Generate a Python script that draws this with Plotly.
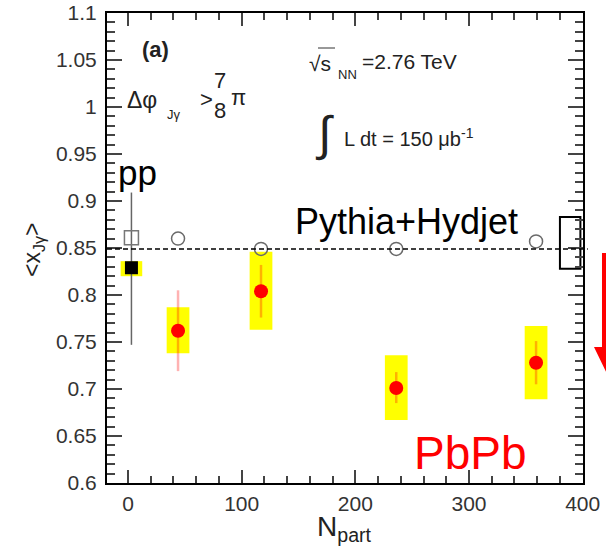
import plotly.graph_objects as go

# ---------------- data ----------------
npart = [44, 117, 236, 359]
pbpb_xjg = [0.762, 0.804, 0.701, 0.728]
pbpb_stat_lo = [0.719, 0.776, 0.685, 0.705]
pbpb_stat_hi = [0.805, 0.832, 0.718, 0.751]
pbpb_sys_lo = [0.738, 0.763, 0.667, 0.689]
pbpb_sys_hi = [0.787, 0.846, 0.736, 0.767]

pythia_npart = [44, 117, 236, 359]
pythia_xjg = [0.860, 0.849, 0.849, 0.857]

pp_npart = [3]
pp_xjg = [0.829]
pp_stat_lo = [0.747]
pp_stat_hi = [0.909]
pp_sys_lo = [0.820]
pp_sys_hi = [0.836]
pp_pythia = [0.861]

ref_npart = [389]
ref_lo = [0.828]
ref_hi = [0.883]
ref_line = 0.849

x_ticks = [0, 100, 200, 300, 400]
x_ticktext = ["0", "100", "200", "300", "400"]
y_ticks = [0.6, 0.65, 0.7, 0.75, 0.8, 0.85, 0.9, 0.95, 1.0, 1.05, 1.1]
y_ticktext = ["0.6", "0.65", "0.7", "0.75", "0.8", "0.85", "0.9", "0.95", "1", "1.05", "1.1"]

FONT = "Liberation Sans, Arial, Helvetica, sans-serif"

fig = go.Figure()

# yellow systematic boxes (PbPb)
fig.add_trace(go.Bar(
    x=npart, y=[h - l for h, l in zip(pbpb_sys_hi, pbpb_sys_lo)], base=pbpb_sys_lo,
    width=20, marker=dict(color="#ffff00", line=dict(width=0)), hoverinfo="skip", showlegend=False))
# pp yellow box
fig.add_trace(go.Bar(
    x=pp_npart, y=[h - l for h, l in zip(pp_sys_hi, pp_sys_lo)], base=pp_sys_lo,
    width=19, marker=dict(color="#ffff00", line=dict(width=0)), hoverinfo="skip", showlegend=False))
# reference (open black) box
fig.add_trace(go.Bar(
    x=ref_npart, y=[h - l for h, l in zip(ref_hi, ref_lo)], base=ref_lo,
    width=18, marker=dict(color="rgba(0,0,0,0)", line=dict(color="black", width=2)),
    hoverinfo="skip", showlegend=False))

# pp point with stat error
fig.add_trace(go.Scatter(
    x=pp_npart, y=pp_xjg, mode="markers",
    marker=dict(symbol="square", size=13, color="black"),
    error_y=dict(type="data", symmetric=False,
                 array=[h - v for h, v in zip(pp_stat_hi, pp_xjg)],
                 arrayminus=[v - l for v, l in zip(pp_xjg, pp_stat_lo)],
                 color="#666666", thickness=1.5, width=0),
    showlegend=False))
# pp Pythia open square
fig.add_trace(go.Scatter(
    x=pp_npart, y=pp_pythia, mode="markers",
    marker=dict(symbol="square-open", size=14, color="#777777", line=dict(width=1.5)),
    showlegend=False))

# Pythia+Hydjet open circles
fig.add_trace(go.Scatter(
    x=pythia_npart, y=pythia_xjg, mode="markers",
    marker=dict(symbol="circle-open", size=13, color="#6a6a6a", line=dict(width=1.5)),
    showlegend=False))

# PbPb points
fig.add_trace(go.Scatter(
    x=npart, y=pbpb_xjg, mode="markers",
    marker=dict(symbol="circle", size=14, color="#ff0000"),
    error_y=dict(type="data", symmetric=False,
                 array=[h - v for h, v in zip(pbpb_stat_hi, pbpb_xjg)],
                 arrayminus=[v - l for v, l in zip(pbpb_xjg, pbpb_stat_lo)],
                 color="rgba(255,0,0,0.3)", thickness=2.5, width=0),
    showlegend=False))

# dashed Pythia+Hydjet reference line
fig.add_shape(type="line", xref="paper", yref="y", x0=0, x1=1.01, y0=ref_line, y1=ref_line,
              line=dict(color="black", width=1.5, dash="5px,3px"))


def px2paper(px, py):
    # figure pixel -> paper coordinates (plot area spans x 107..583, y 13..483)
    return (px - 107) / 476.0, (483 - py) / 470.0


# red arrow outside the frame
pts = [(602, 253), (614, 253), (614, 347), (626, 347), (610, 380), (594, 347), (602, 347)]
path = "M " + " L ".join("%.4f,%.4f" % px2paper(a, b) for a, b in pts) + " Z"
fig.add_shape(type="path", xref="paper", yref="paper", path=path,
              fillcolor="#ff0000", line=dict(width=0))

# overline of sqrt
ox0, oy = px2paper(318, 48)
ox1, _ = px2paper(335, 48)
fig.add_shape(type="line", xref="paper", yref="paper", x0=ox0, x1=ox1, y0=oy, y1=oy,
              line=dict(color="#333333", width=1))


def ann(text, px, py, size, color="#222222", xanchor="center", yanchor="middle", angle=0, bold=False):
    x, y = px2paper(px, py)
    fig.add_annotation(text=("<b>%s</b>" % text) if bold else text, xref="paper", yref="paper",
                       x=x, y=y, xanchor=xanchor, yanchor=yanchor, showarrow=False,
                       textangle=angle, font=dict(family=FONT, size=size, color=color))


ann("(a)", 155, 50, 22, bold=True)
ann("Δφ", 125, 100, 23, xanchor="left")
ann("Jγ", 174, 114, 13)
ann(">", 206, 99, 22)
ann("7", 220, 80, 22)
ann("8", 220, 111, 22)
ann("π", 238, 97, 22)
ann("√s", 307, 63, 21, xanchor="left")
ann("NN", 347, 74, 13)
ann("=2.76 TeV", 360, 62, 21, xanchor="left")
ann("∫", 324, 134, 48)
ann("L dt = 150 μb<sup>-1</sup>", 342, 137, 20, xanchor="left")

ann("pp", 137, 172, 35, color="black")
ann("Pythia+Hydjet", 406, 221, 36, color="black")
ann("PbPb", 470, 453, 46, color="#ff0000")

ann("&lt;x<sub>Jγ</sub>&gt;", 33, 250, 23, angle=-90)
ann("N<sub>part</sub>", 344, 528, 28)

axis_common = dict(showline=True, linecolor="black", linewidth=2, mirror="allticks",
                   ticks="inside", tickcolor="#444444", tickwidth=1.5,
                   showgrid=False, zeroline=False, automargin=False,
                   ticklabeloverflow="allow",
                   tickfont=dict(family=FONT, size=21, color="#333333"))

fig.update_xaxes(range=[-18.5, 400.3], tickvals=x_ticks, ticktext=x_ticktext, ticklen=13,
                 minor=dict(dtick=20, tick0=0, ticks="inside", ticklen=7, tickcolor="#444444",
                            tickwidth=1.5, showgrid=False),
                 ticklabelstandoff=1, **axis_common)
fig.update_yaxes(range=[0.6, 1.1], tickvals=y_ticks, ticktext=y_ticktext, ticklen=15,
                 minor=dict(dtick=0.01, tick0=0.6, ticks="inside", ticklen=8, tickcolor="#444444",
                            tickwidth=1.5, showgrid=False),
                 ticklabelstandoff=4, **axis_common)

fig.update_layout(width=606, height=557, margin=dict(l=107, r=23, t=13, b=74, autoexpand=False),
                  paper_bgcolor="white", plot_bgcolor="white", barmode="overlay",
                  showlegend=False)

# place the figure at the page origin (no default body margin / scrollbars), no modebar
fig.write_html("out.html", config={"displayModeBar": False},
               post_script="document.body.style.margin='0';document.body.style.overflow='hidden';")
